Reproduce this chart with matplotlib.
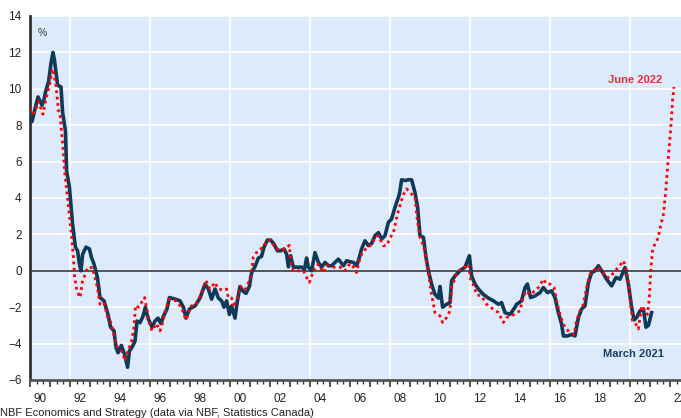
import matplotlib
matplotlib.use("Agg")
import matplotlib.pyplot as plt
import matplotlib.transforms as mtransforms
import numpy as np

plt.rcParams['font.family'] = ['Liberation Sans', 'DejaVu Sans']

# March 2021 vintage (navy, solid) - decimal year, %
navy_t = [1990.0, 1990.1, 1990.25, 1990.4, 1990.6, 1990.7, 1990.77, 1990.93, 1991.05, 1991.15,
          1991.22, 1991.38, 1991.55, 1991.63, 1991.77, 1991.83, 1991.97, 1992.13, 1992.27, 1992.38,
          1992.47, 1992.55, 1992.63, 1992.8, 1992.97, 1993.07, 1993.2, 1993.37, 1993.5, 1993.7,
          1993.9, 1994.03, 1994.2, 1994.3, 1994.4, 1994.57, 1994.73, 1994.88, 1994.97, 1995.1,
          1995.25, 1995.35, 1995.5, 1995.65, 1995.77, 1995.9, 1996.1, 1996.25, 1996.4, 1996.55,
          1996.67, 1996.85, 1996.97, 1997.27, 1997.5, 1997.67, 1997.8, 1997.97, 1998.25, 1998.5,
          1998.75, 1998.92, 1999.08, 1999.25, 1999.42, 1999.58, 1999.7, 1999.83, 1999.97, 2000.08,
          2000.25, 2000.37, 2000.5, 2000.67, 2000.8, 2000.97, 2001.08, 2001.25, 2001.42, 2001.58,
          2001.7, 2001.87, 2002.03, 2002.2, 2002.37, 2002.53, 2002.7, 2002.83, 2002.92, 2003.03,
          2003.17, 2003.33, 2003.58, 2003.72, 2003.83, 2003.92, 2004.08, 2004.25, 2004.42, 2004.58,
          2004.75, 2004.92, 2005.08, 2005.42, 2005.67, 2005.83, 2006.0, 2006.17, 2006.33, 2006.42,
          2006.58, 2006.75, 2006.92, 2007.08, 2007.25, 2007.42, 2007.58, 2007.75, 2007.92, 2008.08,
          2008.25, 2008.47, 2008.58, 2008.75, 2008.92, 2009.08, 2009.25, 2009.38, 2009.5, 2009.67,
          2009.8, 2009.92, 2010.08, 2010.25, 2010.42, 2010.5, 2010.63, 2010.83, 2011.0, 2011.08,
          2011.25, 2011.5, 2011.75, 2011.97, 2012.08, 2012.25, 2012.42, 2012.67, 2012.92, 2013.17,
          2013.42, 2013.58, 2013.75, 2014.0, 2014.25, 2014.33, 2014.58, 2014.75, 2014.87, 2015.03,
          2015.25, 2015.5, 2015.67, 2015.87, 2016.08, 2016.25, 2016.42, 2016.58, 2016.67, 2016.87,
          2017.08, 2017.25, 2017.42, 2017.58, 2017.75, 2017.92, 2018.08, 2018.25, 2018.42, 2018.58,
          2018.83, 2019.08, 2019.3, 2019.5, 2019.75, 2019.92, 2020.08, 2020.2, 2020.33, 2020.5,
          2020.67, 2020.8, 2020.92, 2021.08]
navy_v = [8.5, 8.2, 8.9, 9.55, 9.1, 9.4, 9.8, 10.4, 11.4, 12.0,
          11.6, 10.2, 10.1, 8.7, 7.7, 5.5, 4.6, 2.55, 1.3, 1.1,
          0.37, 0.0, 0.9, 1.3, 1.2, 0.75, 0.37, -0.36, -1.47, -1.65,
          -2.4, -3.1, -3.3, -4.2, -4.5, -4.1, -4.6, -5.3, -4.4, -4.2,
          -3.87, -2.76, -2.85, -2.5, -2.0, -2.6, -3.1, -2.76, -2.6, -2.9,
          -2.5, -2.1, -1.47, -1.56, -1.65, -2.0, -2.6, -2.1, -1.93, -1.5,
          -0.73, -1.0, -1.56, -1.0, -1.5, -1.65, -2.0, -1.65, -2.4, -1.93,
          -2.6, -1.65, -0.86, -1.14, -1.24, -0.86, -0.1, 0.24, 0.7, 0.8,
          1.3, 1.69, 1.69, 1.47, 1.1, 1.1, 1.2, 0.92, 0.22, 0.83,
          0.2, 0.2, 0.2, 0.06, 0.7, 0.2, 0.0, 1.0, 0.46, 0.2,
          0.46, 0.28, 0.28, 0.64, 0.28, 0.55, 0.5, 0.46, 0.28, 0.55,
          1.2, 1.65, 1.38, 1.5, 1.93, 2.1, 1.75, 1.93, 2.66, 2.85,
          3.49, 4.2, 5.0, 4.96, 5.0, 5.0, 4.3, 3.5, 1.93, 1.84,
          0.74, 0.0, -0.73, -1.3, -1.5, -0.86, -2.0, -1.84, -1.75, -0.55,
          -0.28, 0.0, 0.2, 0.83, -0.28, -0.73, -1.0, -1.3, -1.5, -1.65,
          -1.84, -1.75, -2.3, -2.4, -2.0, -1.84, -1.65, -0.92, -0.73, -1.47,
          -1.38, -1.2, -0.92, -1.2, -1.1, -1.47, -2.3, -2.94, -3.58, -3.58,
          -3.5, -3.58, -2.57, -2.1, -1.93, -0.64, -0.1, 0.0, 0.28, 0.0,
          -0.46, -0.83, -0.37, -0.46, 0.18, -0.73, -2.0, -2.7, -2.57, -2.2,
          -2.1, -3.1, -3.0, -2.3]

# June 2022 vintage (red, dotted)
red_t = [1990.0, 1990.15, 1990.3, 1990.43, 1990.55, 1990.65, 1990.75, 1990.9, 1991.02, 1991.1,
         1991.2, 1991.32, 1991.42, 1991.5, 1991.57, 1991.65, 1991.73, 1991.87, 1992.05, 1992.17,
         1992.23, 1992.35, 1992.5, 1992.63, 1992.77, 1992.88, 1993.13, 1993.2, 1993.37, 1993.5,
         1993.7, 1993.87, 1994.07, 1994.23, 1994.37, 1994.57, 1994.77, 1994.9, 1995.07, 1995.2,
         1995.28, 1995.43, 1995.57, 1995.73, 1995.82, 1995.98, 1996.1, 1996.32, 1996.5, 1996.62,
         1996.78, 1996.97, 1997.3, 1997.57, 1997.8, 1998.05, 1998.25, 1998.5, 1998.8, 1999.0,
         1999.25, 1999.42, 1999.67, 1999.83, 1999.92, 2000.08, 2000.17, 2000.33, 2000.5, 2000.75,
         2000.97, 2001.08, 2001.17, 2001.42, 2001.67, 2001.8, 2002.0, 2002.25, 2002.5, 2002.75,
         2002.97, 2003.03, 2003.17, 2003.33, 2003.67, 2003.83, 2003.97, 2004.17, 2004.42, 2004.67,
         2004.83, 2005.17, 2005.5, 2005.75, 2006.0, 2006.17, 2006.33, 2006.5, 2006.67, 2006.92,
         2007.08, 2007.25, 2007.42, 2007.67, 2007.83, 2008.0, 2008.17, 2008.25, 2008.37, 2008.5,
         2008.67, 2008.83, 2009.0, 2009.25, 2009.33, 2009.42, 2009.5, 2009.7, 2009.83, 2009.97,
         2010.08, 2010.25, 2010.5, 2010.63, 2010.83, 2011.0, 2011.08, 2011.3, 2011.53, 2011.75,
         2011.92, 2012.03, 2012.2, 2012.33, 2012.58, 2012.83, 2013.0, 2013.17, 2013.42, 2013.67,
         2013.83, 2014.08, 2014.33, 2014.5, 2014.67, 2014.83, 2015.0, 2015.25, 2015.42, 2015.67,
         2015.83, 2016.0, 2016.2, 2016.33, 2016.5, 2016.67, 2016.83, 2017.0, 2017.2, 2017.33,
         2017.5, 2017.67, 2017.83, 2018.0, 2018.25, 2018.42, 2018.58, 2018.83, 2019.0, 2019.25,
         2019.42, 2019.67, 2019.83, 2020.0, 2020.13, 2020.3, 2020.42, 2020.58, 2020.75, 2020.87,
         2020.97, 2021.0, 2021.05, 2021.13, 2021.25, 2021.38, 2021.5, 2021.67, 2021.78, 2021.88,
         2021.97, 2022.07, 2022.13, 2022.2]
red_v = [8.9, 8.6, 8.9, 9.3, 8.9, 8.6, 9.2, 9.9, 10.4, 11.1,
         10.8, 10.0, 8.8, 8.7, 7.7, 6.8, 5.5, 4.04, 2.2, 0.75,
         -0.36, -1.1, -1.47, -0.55, -0.18, 0.18, 0.18, -0.18, -0.92, -1.84,
         -1.75, -2.5, -2.9, -3.7, -4.2, -4.4, -4.96, -4.4, -3.9, -3.1,
         -1.9, -2.0, -1.75, -1.47, -2.0, -2.9, -3.3, -2.9, -3.3, -2.9,
         -2.1, -1.56, -1.65, -2.0, -2.7, -1.93, -1.93, -1.4, -0.55, -1.0,
         -0.64, -1.0, -1.06, -1.0, -1.5, -1.5, -2.0, -1.65, -0.86, -1.06,
         -0.55, 0.0, 0.77, 1.14, 1.28, 1.6, 1.7, 1.3, 1.1, 1.2,
         1.4, 0.55, 0.0, 0.0, 0.0, -0.37, -0.64, 0.0, 0.37, -0.1,
         0.28, 0.2, 0.2, 0.0, 0.4, 0.2, -0.1, 0.74, 1.1, 1.28,
         1.47, 1.84, 1.93, 1.38, 1.38, 1.8, 2.1, 2.48, 3.1, 3.58,
         4.2, 4.5, 4.3, 4.04, 3.1, 2.39, 1.84, 1.3, 0.55, -0.46,
         -1.3, -2.3, -2.48, -2.84, -2.57, -2.2, -0.9, -0.28, 0.09, 0.2,
         0.37, -0.46, -0.83, -1.3, -1.4, -1.84, -2.0, -2.1, -2.3, -2.84,
         -2.57, -2.48, -2.3, -2.2, -1.38, -1.1, -1.3, -1.1, -0.92, -0.46,
         -0.73, -0.73, -0.92, -1.65, -2.4, -2.94, -3.2, -3.4, -3.5, -2.75,
         -2.2, -1.84, -0.92, -0.18, 0.09, 0.2, 0.0, -0.37, -0.37, 0.0,
         0.18, 0.55, 0.0, -1.47, -2.75, -2.94, -3.2, -1.93, -2.2, -2.4,
         -1.47, -0.73, 0.18, 1.1, 1.5, 1.74, 2.3, 3.1, 4.3, 5.7,
         7.0, 8.3, 9.4, 10.1]

label_years = list(range(1990, 2023, 2))
label_text = ["%02d" % (y % 100) for y in label_years]

fig = plt.figure(figsize=(6.81, 4.18), dpi=100)
ax = fig.add_axes([30 / 681, 38 / 418, 651 / 681, 364 / 418])
ax.set_facecolor("#DDEAFB")

ax.set_xlim(1990, 2022.55)
ax.set_ylim(-6, 14)

ax.set_yticks(np.arange(-6, 15, 2))
ax.set_xticks(np.arange(1990, 2023, 1))
ax.set_xticks(np.arange(1990, 2022.5, 1 / 3), minor=True)
ax.set_xticklabels([])
ax.tick_params(axis="y", length=0, labelsize=8.5, pad=6, colors="#222222")
ax.tick_params(axis="x", which="major", length=5, width=1.2, color="#333333")
ax.tick_params(axis="x", which="minor", length=3, width=1.0, color="#333333")

for y in np.arange(-6, 15, 2):
    ax.axhline(y, color="white", lw=1.2, zorder=0)
for x in range(1992, 2023, 4):
    ax.axvline(x, color="white", lw=1.2, zorder=0)
ax.axhline(0, color="#555555", lw=1.4, zorder=1)

for s in ["top", "right"]:
    ax.spines[s].set_visible(False)
ax.spines["left"].set_color("#333333")
ax.spines["left"].set_linewidth(2)
ax.spines["bottom"].set_color("#555555")
ax.spines["bottom"].set_linewidth(2)

ax.plot(navy_t, navy_v, color="#0E3A5A", lw=2.6, solid_joinstyle="round", zorder=3)
ax.plot(red_t, red_v, color="#FF0000", lw=2.0, linestyle=(0, (1, 1.3)), zorder=4)

trans = mtransforms.blended_transform_factory(ax.transData, ax.transAxes)
for y, t in zip(label_years, label_text):
    ax.text(y + 0.5, -0.036, t, transform=trans, ha="center", va="top",
            fontsize=8.5, color="#222222", clip_on=False)

ax.text(0.011, 0.967, "%", transform=ax.transAxes, fontsize=7.5, color="#333333",
        ha="left", va="top")
ax.text(2021.6, 10.5, "June 2022", color="#E8303A", fontsize=8, fontweight="bold",
        ha="right", va="center")
ax.text(2021.7, -4.55, "March 2021", color="#17405F", fontsize=8, fontweight="bold",
        ha="right", va="center")

fig.text(0.0, 0.011, "NBF Economics and Strategy (data via NBF, Statistics Canada)",
         fontsize=8, color="#222222", ha="left", va="center")

fig.savefig("out.png", dpi=100)
